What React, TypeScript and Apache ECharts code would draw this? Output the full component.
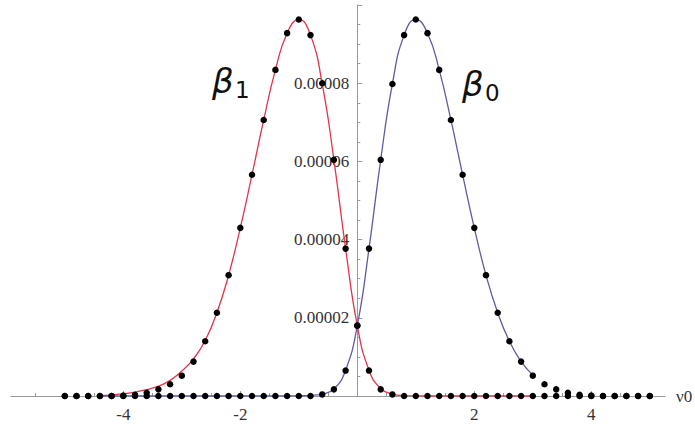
import React, { useEffect, useRef } from 'react';
import * as echarts from 'echarts';

// Sample points of the dots (x) and their values, in units of 1e-5
const dotX = [-5, -4.8, -4.6, -4.4, -4.2, -4, -3.8, -3.6, -3.4, -3.2, -3, -2.8, -2.6, -2.4, -2.2, -2, -1.8, -1.6, -1.4, -1.2, -1, -0.8, -0.6, -0.4, -0.2, 0, 0.2, 0.4, 0.6, 0.8, 1, 1.2, 1.4, 1.6, 1.8, 2, 2.2, 2.4, 2.6, 2.8, 3, 3.2, 3.4, 3.6, 3.8, 4, 4.2, 4.4, 4.6, 4.8, 5];
const beta0DotsE5 = [0, 0, 0, 0, 0, 0, 0, 0, 0, 0, 0, 0, 0, 0, 0, 0, 0, 0, 0, 0, 0, 0, 0.04, 0.17, 0.65, 1.8, 3.77, 6.04, 7.98, 9.23, 9.63, 9.28, 8.34, 7.06, 5.66, 4.3, 3.09, 2.13, 1.4, 0.88, 0.52, 0.3, 0.17, 0.08, 0.03, 0.01, 0, 0, 0, 0, 0];
const beta1DotsE5 = [0, 0, 0, 0, 0, 0.01, 0.03, 0.08, 0.17, 0.3, 0.52, 0.88, 1.4, 2.13, 3.09, 4.3, 5.66, 7.06, 8.34, 9.28, 9.63, 9.23, 8.0, 6.04, 3.77, 1.8, 0.65, 0.17, 0.04, 0, 0, 0, 0, 0, 0, 0, 0, 0, 0, 0, 0, 0, 0, 0, 0, 0, 0, 0, 0, 0, 0];

// Curve sample points and values, in units of 1e-5
const curveX = [-4.4, -4.2, -4, -3.8, -3.6, -3.4, -3.2, -3, -2.8, -2.6, -2.4, -2.2, -2, -1.8, -1.6, -1.4, -1.2, -1, -0.8, -0.6, -0.4, -0.2, 0, 0.2, 0.4, 0.6, 0.8, 1, 1.2, 1.4, 1.6, 1.8, 2, 2.2, 2.4, 2.6, 2.8, 3];
const beta1CurveE5 = [0.01, 0.03, 0.06, 0.1, 0.16, 0.25, 0.4, 0.64, 0.95, 1.42, 2.13, 3.09, 4.3, 5.66, 7.06, 8.34, 9.28, 9.63, 9.23, 7.98, 6.04, 3.77, 1.8, 0.66, 0.19, 0.05, 0.01, 0, 0, 0, 0, 0, 0, 0, 0, 0, 0, 0];
const beta0CurveE5 = [0, 0, 0, 0, 0, 0, 0, 0, 0, 0, 0, 0, 0, 0, 0, 0, 0, 0.005, 0.015, 0.05, 0.18, 0.66, 1.8, 3.77, 6.04, 7.98, 9.23, 9.63, 9.28, 8.34, 7.06, 5.66, 4.3, 3.09, 2.13, 1.4, 0.88, 0.54];

const xTickValues = [-4, -2, 0, 2, 4];
const xLabelValues = [-4, -2, 2, 4];
const xAxisName = 'ν0';
const UNIT = 1e-5;

const toPairs = (xs: number[], ys: number[]) => xs.map((x, i) => [x, ys[i] * UNIT]);

// layout (pixels)
const GRID_LEFT = 11;
const GRID_RIGHT = 30;
const X_MIN = -5.92;
const X_MAX = 5.26;

export default function App() {
  const ref = useRef<HTMLDivElement>(null);
  useEffect(() => {
    if (!ref.current) return;
    const chart = echarts.init(ref.current, undefined, { renderer: 'svg' });
    const axisColor = '#9a9a9a';
    const labelFont = { fontFamily: 'Liberation Serif', fontSize: 17, color: '#333' };
    const plotWidth = 695 - GRID_LEFT - GRID_RIGHT;
    const zeroOffset = ((0 - X_MIN) / (X_MAX - X_MIN)) * plotWidth;
    chart.setOption({
      animation: false,
      backgroundColor: '#fff',
      textStyle: { fontFamily: 'Liberation Serif' },
      grid: { left: GRID_LEFT, right: GRID_RIGHT, top: 5, bottom: 28, containLabel: false, outerBoundsMode: 'none' },
      xAxis: {
        type: 'value',
        min: X_MIN,
        max: X_MAX,
        axisLine: { show: true, onZero: true, lineStyle: { color: axisColor, width: 1 } },
        axisTick: { show: true, inside: true, length: 5, customValues: xTickValues, lineStyle: { color: axisColor } },
        minorTick: { show: true, splitNumber: 4, length: 3, lineStyle: { color: axisColor } },
        axisLabel: { ...labelFont, margin: 10, customValues: xLabelValues },
        splitLine: { show: false },
        name: xAxisName,
        nameLocation: 'end',
        nameGap: 11,
        nameTextStyle: { ...labelFont, verticalAlign: 'middle' },
      },
      yAxis: {
        type: 'value',
        min: 0,
        max: 0.0001,
        interval: 0.00002,
        position: 'left',
        offset: -zeroOffset,
        axisLine: { show: true, onZero: false, lineStyle: { color: axisColor, width: 1 } },
        axisTick: { show: true, inside: true, length: 5, lineStyle: { color: axisColor } },
        minorTick: { show: true, splitNumber: 4, length: 3, lineStyle: { color: axisColor } },
        axisLabel: {
          ...labelFont,
          margin: 8,
          showMaxLabel: false,
          formatter: (v: number) => (v === 0 ? '' : v.toFixed(5)),
        },
        splitLine: { show: false },
      },
      series: [
        {
          type: 'line',
          data: toPairs(curveX, beta1CurveE5),
          smooth: 0.5,
          showSymbol: false,
          lineStyle: { color: '#e2344a', width: 1.3 },
          z: 2,
        },
        {
          type: 'line',
          data: toPairs(curveX, beta0CurveE5),
          smooth: 0.5,
          showSymbol: false,
          lineStyle: { color: '#5c5ca6', width: 1.3 },
          z: 2,
        },
        {
          type: 'scatter',
          data: toPairs(dotX, beta1DotsE5),
          symbolSize: 6.5,
          itemStyle: { color: '#000', opacity: 1 },
          z: 3,
        },
        {
          type: 'scatter',
          data: toPairs(dotX, beta0DotsE5),
          symbolSize: 6.5,
          itemStyle: { color: '#000', opacity: 1 },
          z: 3,
        },
      ],
      graphic: [
        { type: 'text', x: 212, y: 81, style: { text: 'β', font: 'italic 34px DejaVu Sans', fill: '#111', verticalAlign: 'middle' } },
        { type: 'text', x: 235, y: 90, style: { text: '1', font: '23px DejaVu Sans', fill: '#111', verticalAlign: 'middle' } },
        { type: 'text', x: 462, y: 84, style: { text: 'β', font: 'italic 34px DejaVu Sans', fill: '#111', verticalAlign: 'middle' } },
        { type: 'text', x: 485, y: 93, style: { text: '0', font: '23px DejaVu Sans', fill: '#111', verticalAlign: 'middle' } },
      ],
    });
    return () => chart.dispose();
  }, []);
  return (
    <div style={{ position: 'fixed', left: 0, top: 0, width: 695, height: 424, background: '#fff' }}>
      <div ref={ref} style={{ width: 695, height: 424 }} />
    </div>
  );
}
